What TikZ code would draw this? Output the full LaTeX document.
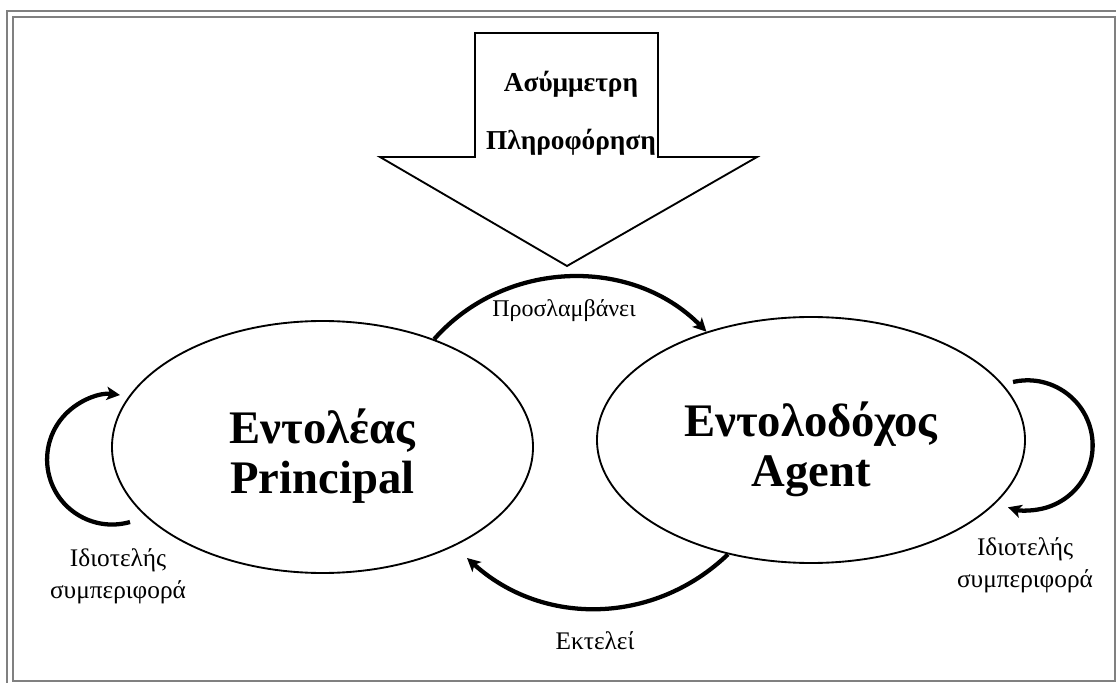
\documentclass[tikz,border=0pt]{standalone}
\usepackage{fontspec}
\setmainfont{Liberation Serif}
\usetikzlibrary{arrows.meta, shapes.geometric}

\begin{document}
\begin{tikzpicture}[x=0.75pt, y=0.75pt,
    actor/.style={draw, line width=1.4pt, ellipse, inner sep=0pt},
    actortext/.style={align=center, font=\fontsize{35}{37.5}\selectfont\bfseries},
    flow/.style={line width=3.2pt, -{Stealth[length=10pt, width=10pt, inset=2.5pt]}},
    flowtext/.style={align=center, font=\fontsize{19}{24}\selectfont},
    infotext/.style={font=\fontsize{20.5}{24}\selectfont\bfseries, anchor=base}]
    % Picture frame: 1 unit = 1 pixel of the 1116 x 682 target
    \useasboundingbox (0,0) rectangle (1116,682);
    \clip (0,0) rectangle (1116,682);

    % --- DOUBLE FRAME ---
    \draw[gray, line width=1.5pt] (7,671) rectangle (1130,-10);     % outer line
    \draw[gray, line width=1.5pt] (13,664.5) rectangle (1114.5,1.5); % inner line

    % --- BIG ARROW (asymmetric information) ---
    \draw[line width=1.4pt, line join=miter]
        (475,649) -- (658,649) -- (658,525) -- (757,525) -- (567,416)
        -- (380,525) -- (475,525) -- cycle;
    \node[infotext] (info1) at (571,590) {Ασύμμετρη};
    \node[infotext] (info2) at (571,532) {Πληροφόρηση};

    % --- PRINCIPAL AND AGENT ---
    \node[actor, minimum width=315.75pt, minimum height=189pt] (principal) at (322.5,235) {};
    \node[actor, minimum width=321pt, minimum height=184.5pt] (agent) at (811,242) {};
    \node[actortext] (principal label) at (322.5,226) {Εντολέας\\Principal};
    \node[actortext] (agent label) at (811,233) {Εντολοδόχος\\Agent};

    % --- CONNECTORS ---
    \draw[flow] (principal.44) to[bend left=47] (agent.134);
    \coordinate (exec end) at (467,124);
    \draw[flow] (agent.234) to[bend left=43] (exec end);

    % self-interest loops
    \coordinate (loop left) at (130,160);
    \draw[flow] (loop left) arc[start angle=286, end angle=83, radius=65];
    \coordinate (loop right) at (1013,300);
    \draw[flow] (loop right) arc[start angle=103, end angle=-107.6, radius=65];

    % --- LABELS ---
    \node[flowtext, font=\fontsize{18}{24}\selectfont, anchor=base] (hire) at (564,365) {Προσλαμβάνει};
    \node[flowtext, anchor=base] (exec) at (595,33) {Εκτελεί};
    \node[flowtext, anchor=base] (self left) at (118,84) {Ιδιοτελής\\συμπεριφορά};
    \node[flowtext, anchor=base] (self right) at (1025,95) {Ιδιοτελής\\συμπεριφορά};
\end{tikzpicture}
\end{document}
